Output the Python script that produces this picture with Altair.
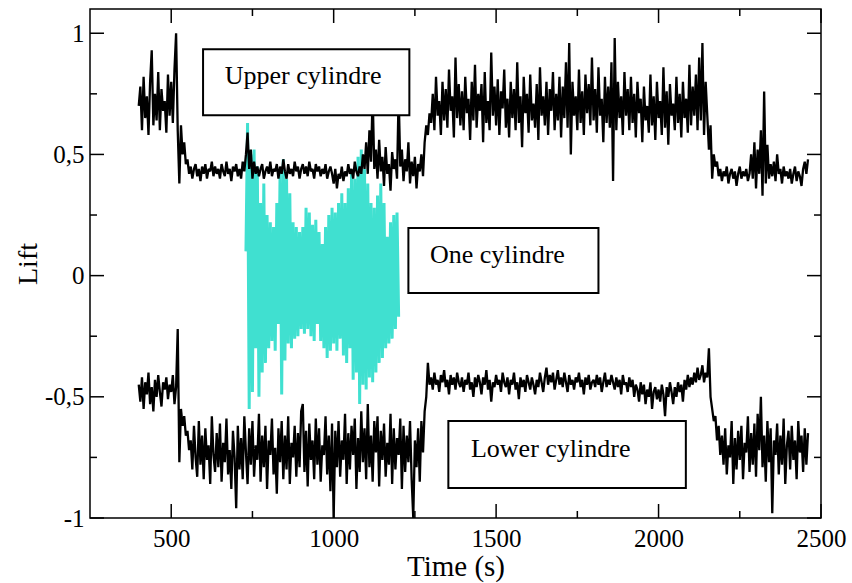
import altair as alt
import pandas as pd

# ---------------- data ----------------
T_START = 400      # s, first sample of the black series
T_STEP = 5         # s, sampling step
CYAN_START = 730   # s, first sample of the single-cylinder series

upper_lift = [
    0.70, 0.78, 0.60, 0.82, 0.65, 0.74, 0.58, 0.80, 0.93, 0.62,
    0.75, 0.64, 0.84, 0.60, 0.77, 0.68, 0.72, 0.59, 0.83, 0.66,
    0.80, 0.63, 0.85, 1.00, 0.60, 0.38, 0.62, 0.50, 0.55, 0.46,
    0.48, 0.42, 0.45, 0.40, 0.44, 0.46, 0.41, 0.44, 0.39, 0.45,
    0.42, 0.46, 0.40, 0.44, 0.43, 0.47, 0.41, 0.45, 0.42, 0.44,
    0.40, 0.46, 0.43, 0.41, 0.47, 0.42, 0.44, 0.39, 0.45, 0.43,
    0.46, 0.41, 0.44, 0.40, 0.47, 0.43, 0.50, 0.59, 0.44, 0.52,
    0.40, 0.47, 0.42, 0.45, 0.41, 0.44, 0.46, 0.40, 0.43, 0.45,
    0.42, 0.47, 0.41, 0.44, 0.43, 0.46, 0.40, 0.45, 0.42, 0.48,
    0.43, 0.40, 0.46, 0.42, 0.44, 0.41, 0.47, 0.43, 0.45, 0.40,
    0.44, 0.46, 0.42, 0.45, 0.41, 0.47, 0.43, 0.44, 0.40, 0.46,
    0.43, 0.45, 0.41, 0.44, 0.42, 0.46, 0.40, 0.43, 0.45, 0.42,
    0.38, 0.44, 0.36, 0.42, 0.40, 0.45, 0.39, 0.43, 0.41, 0.46,
    0.42, 0.44, 0.40, 0.47, 0.43, 0.41, 0.45, 0.42, 0.50, 0.44,
    0.55, 0.42, 0.60, 0.47, 0.75, 0.44, 0.52, 0.40, 0.56, 0.43,
    0.49, 0.37, 0.53, 0.42, 0.46, 0.35, 0.51, 0.44, 0.48, 0.40,
    0.75, 0.45, 0.52, 0.39, 0.48, 0.43, 0.55, 0.38, 0.47, 0.41,
    0.49, 0.36, 0.46, 0.43, 0.50, 0.41, 0.55, 0.62, 0.58, 0.67,
    0.63, 0.75, 0.60, 0.82, 0.66, 0.72, 0.58, 0.80, 0.64, 0.77,
    0.61, 0.85, 0.68, 0.74, 0.57, 0.90, 0.65, 0.79, 0.62, 0.76,
    0.60, 0.82, 0.67, 0.73, 0.56, 0.80, 0.64, 0.87, 0.61, 0.75,
    0.68, 0.79, 0.55, 0.84, 0.63, 0.72, 0.60, 0.92, 0.66, 0.78,
    0.62, 0.81, 0.58, 0.76, 0.69, 0.85, 0.61, 0.73, 0.57, 0.80,
    0.65, 0.77, 0.60, 0.88, 0.63, 0.74, 0.53, 0.82, 0.67, 0.75,
    0.59, 0.83, 0.64, 0.71, 0.61, 0.79, 0.56, 0.86, 0.66, 0.74,
    0.62, 0.80, 0.58, 0.77, 0.68, 0.84, 0.60, 0.75, 0.64, 0.82,
    0.57, 0.78, 0.65, 0.88, 0.61, 0.96, 0.50, 0.80, 0.66, 0.74,
    0.60, 0.85, 0.63, 0.76, 0.58, 0.83, 0.67, 0.79, 0.62, 0.90,
    0.64, 0.77, 0.59, 0.86, 0.66, 0.73, 0.55, 0.82, 0.63, 0.78,
    0.61, 0.88, 0.39, 0.98, 0.60, 0.80, 0.65, 0.74, 0.58, 0.84,
    0.66, 0.77, 0.60, 0.82, 0.63, 0.75, 0.57, 0.80, 0.67, 0.73,
    0.55, 0.78, 0.64, 0.70, 0.59, 0.83, 0.62, 0.74, 0.56, 0.80,
    0.65, 0.72, 0.58, 0.86, 0.61, 0.76, 0.54, 0.79, 0.66, 0.71,
    0.60, 0.82, 0.63, 0.75, 0.57, 0.80, 0.65, 0.73, 0.59, 0.87,
    0.62, 0.78, 0.66, 0.83, 0.60, 0.90, 0.64, 0.96, 0.58, 0.80,
    0.66, 0.52, 0.62, 0.40, 0.50, 0.45, 0.47, 0.41, 0.44, 0.39,
    0.43, 0.41, 0.45, 0.38, 0.42, 0.44, 0.40, 0.43, 0.37, 0.42,
    0.45, 0.40, 0.43, 0.41, 0.44, 0.39, 0.42, 0.50, 0.40, 0.55,
    0.36, 0.52, 0.42, 0.60, 0.33, 0.76, 0.38, 0.54, 0.40, 0.46,
    0.41, 0.47, 0.39, 0.50, 0.42, 0.44, 0.38, 0.45, 0.41, 0.43,
    0.40, 0.44, 0.38, 0.42, 0.45, 0.39, 0.43, 0.41, 0.37, 0.44,
    0.47, 0.42, 0.48,
]

lower_lift = [
    -0.45, -0.52, -0.42, -0.55, -0.44, -0.49, -0.40, -0.53, -0.46, -0.56,
    -0.43, -0.50, -0.41, -0.48, -0.54, -0.44, -0.47, -0.42, -0.51, -0.45,
    -0.48, -0.41, -0.53, -0.46, -0.22, -0.77, -0.55, -0.62, -0.58, -0.66,
    -0.64, -0.72, -0.68, -0.80, -0.62, -0.75, -0.83, -0.60, -0.78, -0.66,
    -0.84, -0.63, -0.76, -0.70, -0.86, -0.58, -0.74, -0.81, -0.65, -0.79,
    -0.61, -0.85, -0.69, -0.77, -0.59, -0.82, -0.72, -0.88, -0.64, -0.75,
    -0.96, -0.62, -0.80, -0.67, -0.84, -0.58, -0.73, -0.86, -0.63, -0.78,
    -0.60, -0.83, -0.70, -0.76, -0.57, -0.85, -0.66, -0.79, -0.62, -0.88,
    -0.68, -0.74, -0.59, -0.82, -0.71, -0.90, -0.63, -0.77, -0.60, -0.84,
    -0.66, -0.80, -0.58, -0.86, -0.69, -0.75, -0.62, -0.83, -0.65, -0.79,
    -0.56, -0.53, -0.81, -0.64, -0.87, -0.61, -0.76, -0.68, -0.84, -0.59,
    -0.78, -0.63, -0.85, -0.70, -0.74, -0.58, -0.82, -0.66, -0.89, -0.61,
    -1.00, -0.64, -0.79, -0.60, -0.83, -0.68, -0.76, -0.57, -0.86, -0.65,
    -0.80, -0.62, -0.74, -0.59, -0.88, -0.67, -0.81, -0.56, -0.77, -0.63,
    -0.84, -0.53, -0.79, -0.66, -0.85, -0.60, -0.73, -0.58, -0.87, -0.64,
    -0.76, -0.61, -0.83, -0.69, -0.78, -0.57, -0.86, -0.63, -0.80, -0.67,
    -0.74, -0.59, -0.88, -0.62, -0.81, -0.66, -0.77, -0.60, -0.84, -1.00,
    -0.68, -0.79, -0.63, -0.85, -0.60, -0.73, -0.56, -0.50, -0.36, -0.45,
    -0.42, -0.47, -0.40, -0.45, -0.43, -0.48, -0.41, -0.44, -0.39, -0.46,
    -0.43, -0.49, -0.41, -0.45, -0.42, -0.47, -0.40, -0.44, -0.46, -0.42,
    -0.48, -0.43, -0.45, -0.40, -0.47, -0.44, -0.50, -0.42, -0.46, -0.41,
    -0.44, -0.49, -0.42, -0.45, -0.39, -0.47, -0.43, -0.52, -0.44, -0.46,
    -0.41, -0.45, -0.43, -0.48, -0.40, -0.44, -0.46, -0.42, -0.49, -0.43,
    -0.45, -0.40, -0.47, -0.44, -0.51, -0.42, -0.46, -0.43, -0.48, -0.41,
    -0.44, -0.47, -0.42, -0.45, -0.49, -0.43, -0.46, -0.40, -0.44, -0.48,
    -0.42, -0.38, -0.45, -0.41, -0.44, -0.40, -0.47, -0.43, -0.39, -0.45,
    -0.42, -0.46, -0.40, -0.44, -0.48, -0.41, -0.45, -0.43, -0.47, -0.42,
    -0.44, -0.40, -0.46, -0.43, -0.49, -0.42, -0.45, -0.41, -0.47, -0.44,
    -0.43, -0.46, -0.41, -0.45, -0.42, -0.48, -0.44, -0.40, -0.46, -0.43,
    -0.45, -0.41, -0.44, -0.47, -0.42, -0.46, -0.43, -0.49, -0.41, -0.45,
    -0.44, -0.48, -0.42, -0.46, -0.43, -0.50, -0.45, -0.47, -0.52, -0.44,
    -0.49, -0.45, -0.53, -0.47, -0.50, -0.44, -0.55, -0.48, -0.46, -0.51,
    -0.47, -0.52, -0.45, -0.49, -0.58, -0.46, -0.50, -0.44, -0.48, -0.53,
    -0.46, -0.50, -0.44, -0.48, -0.45, -0.52, -0.43, -0.47, -0.41, -0.46,
    -0.42, -0.45, -0.40, -0.44, -0.38, -0.43, -0.41, -0.37, -0.44, -0.40,
    -0.42, -0.30, -0.50, -0.55, -0.60, -0.58, -0.68, -0.62, -0.74, -0.66,
    -0.78, -0.63, -0.82, -0.70, -0.75, -0.60, -0.86, -0.67, -0.80, -0.64,
    -0.76, -0.62, -0.84, -0.69, -0.73, -0.58, -0.81, -0.65, -0.78, -0.61,
    -0.83, -0.57, -0.72, -0.50, -0.79, -0.66, -0.85, -0.60, -0.77, -0.63,
    -0.98, -0.68, -0.74, -0.61, -0.82, -0.66, -0.78, -0.59, -0.86, -0.70,
    -0.64, -0.80, -0.62, -0.76, -0.68, -0.84, -0.60, -0.73, -0.66, -0.81,
    -0.63, -0.78, -0.65,
]

one_lift = [
    0.10, 0.63, -0.55, 0.50, -0.48, 0.52, -0.30, 0.45, -0.50, 0.30,
    -0.40, 0.38, -0.36, 0.25, -0.30, 0.22, -0.27, 0.20, -0.31, 0.30,
    -0.20, 0.42, -0.49, 0.48, -0.35, 0.40, -0.28, 0.34, -0.30, 0.22,
    -0.26, 0.20, -0.25, 0.18, -0.22, 0.20, -0.24, 0.28, -0.22, 0.26,
    -0.25, 0.21, -0.27, 0.23, -0.20, 0.18, -0.27, 0.13, -0.30, 0.20,
    -0.34, 0.25, -0.31, 0.28, -0.28, 0.26, -0.31, 0.30, -0.26, 0.34,
    -0.33, 0.30, -0.36, 0.36, -0.30, 0.42, -0.43, 0.40, -0.40, 0.49,
    -0.53, 0.52, -0.45, 0.44, -0.47, 0.38, -0.42, 0.30, -0.44, 0.28,
    -0.40, 0.33, -0.36, 0.38, -0.34, 0.30, -0.30, 0.16, -0.28, 0.22,
    -0.26, 0.25, -0.22, 0.26, -0.17,
]

x_major = [500, 1000, 1500, 2000, 2500]
x_minor = [750, 1250, 1750, 2250]
y_major = [-1, -0.5, 0, 0.5, 1]
y_minor = [-0.75, -0.25, 0.25, 0.75]

box_labels = ["Upper cylindre", "One cylindre", "Lower cylindre"]
box_t0 = [598, 1230, 1353]
box_t1 = [1233, 1815, 2084]
box_l0 = [0.662, -0.072, -0.876]
box_l1 = [0.934, 0.196, -0.600]
label_t = [906, 1504, 1668]
label_l = [0.825, 0.085, -0.715]

# ---------------- build tables ----------------
W, H = 731, 509
FONT = "Liberation Serif"

black = pd.DataFrame({
    "t": [T_START + T_STEP * i for i in range(len(upper_lift))]
         + [T_START + T_STEP * i for i in range(len(lower_lift))],
    "lift": upper_lift + lower_lift,
    "series": ["upper"] * len(upper_lift) + ["lower"] * len(lower_lift),
})
cyan = pd.DataFrame({
    "t": [CYAN_START + T_STEP * i for i in range(len(one_lift))],
    "lift": one_lift,
})
boxes = pd.DataFrame({"label": box_labels, "t0": box_t0, "t1": box_t1,
                      "l0": box_l0, "l1": box_l1, "lt": label_t, "ll": label_l})

xs = alt.Scale(domain=[250, 2500], nice=False, zero=False)
ys = alt.Scale(domain=[-1, 1.1], nice=False, zero=False)

x_enc = alt.X("t:Q", scale=xs, title="Time (s)",
              axis=alt.Axis(values=x_major, format="d", ticks=False, domain=False,
                            grid=False, labelFlush=False, labelFont=FONT, labelFontSize=25,
                            labelColor="black", labelPadding=8,
                            titleFont=FONT, titleFontSize=29, titleFontWeight="normal",
                            titleColor="black", titlePadding=1))
y_enc = alt.Y("lift:Q", scale=ys, title="Lift",
              axis=alt.Axis(values=y_major, format=".1~f", ticks=False, domain=False,
                            grid=False, labelFlush=False, labelFont=FONT, labelFontSize=25,
                            labelColor="black", labelPadding=6,
                            labelExpr="replace(replace(datum.label, '.', ','), '\u2212', '-')",
                            titleFont=FONT, titleFontSize=28, titleFontWeight="normal",
                            titleColor="black", titlePadding=2))

cyan_layer = alt.Chart(cyan).mark_line(color="#40E0D0", strokeWidth=3,
                                       strokeJoin="bevel").encode(x=x_enc, y=y_enc)

black_layer = alt.Chart(black).mark_line(color="black", strokeWidth=2.3,
                                         strokeJoin="bevel").encode(
    x=alt.X("t:Q", scale=xs), y=alt.Y("lift:Q", scale=ys), detail="series:N")

box_layer = alt.Chart(boxes).mark_rect(fill="white", stroke="black", strokeWidth=2).encode(
    x=alt.X("t0:Q", scale=xs), x2="t1:Q",
    y=alt.Y("l0:Q", scale=ys), y2="l1:Q")

text_layer = alt.Chart(boxes).mark_text(font=FONT, fontSize=26, color="black",
                                        align="center", baseline="middle").encode(
    x=alt.X("lt:Q", scale=xs), y=alt.Y("ll:Q", scale=ys), text="label:N")


def tick_rules(vals, length, orient):
    df = pd.DataFrame({"v": vals})
    base = alt.Chart(df).mark_rule(color="black", strokeWidth=1.5)
    if orient == "bottom":
        return base.encode(x=alt.X("v:Q", scale=xs), y=alt.value(H), y2=alt.value(H - length))
    if orient == "top":
        return base.encode(x=alt.X("v:Q", scale=xs), y=alt.value(0), y2=alt.value(length))
    if orient == "left":
        return base.encode(y=alt.Y("v:Q", scale=ys), x=alt.value(0), x2=alt.value(length))
    return base.encode(y=alt.Y("v:Q", scale=ys), x=alt.value(W), x2=alt.value(W - length))


ticks = []
for o in ["bottom", "top"]:
    ticks.append(tick_rules(x_major, 14, o))
    ticks.append(tick_rules(x_minor, 7, o))
for o in ["left", "right"]:
    ticks.append(tick_rules(y_major, 14, o))
    ticks.append(tick_rules(y_minor, 7, o))

chart = alt.layer(cyan_layer, black_layer, box_layer, text_layer, *ticks).properties(
    width=W, height=H,
    autosize=alt.AutoSizeParams(type="none"),
    padding={"left": 90, "top": 9, "right": 31, "bottom": 65},
    background="white",
).configure_view(stroke="black", strokeWidth=1.5)

chart.save("out.html", embed_options={"renderer": "svg", "actions": False})
